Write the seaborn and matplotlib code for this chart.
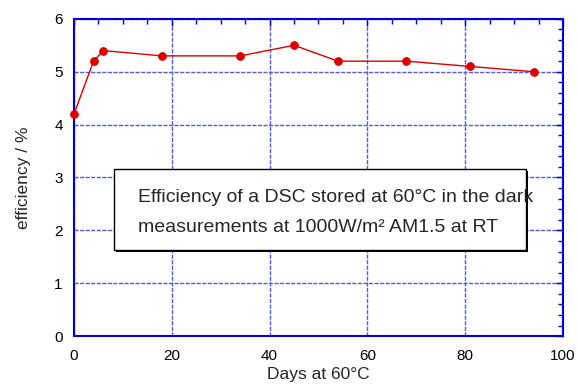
import matplotlib
matplotlib.use("Agg")
import matplotlib.pyplot as plt
import seaborn as sns
import pandas as pd
from matplotlib.ticker import MultipleLocator
from matplotlib.patches import Rectangle

days = [0, 4, 6, 18, 34, 45, 54, 68, 81, 94]
efficiency = [4.2, 5.2, 5.4, 5.3, 5.3, 5.5, 5.2, 5.2, 5.1, 5.0]
x_label = "Days at 60°C"
y_label = "efficiency / %"
note_lines = ["Efficiency of a DSC stored at 60°C in the dark",
              "measurements at 1000W/m² AM1.5 at RT"]

sns.set_style("white")
plt.rcParams['font.family'] = ['Liberation Sans', 'DejaVu Sans']

df = pd.DataFrame({"days": days, "eff": efficiency})

fig = plt.figure(figsize=(5.78, 3.85), dpi=100)
ax = fig.add_axes([0.128, 0.127, 0.846, 0.824])

blue = "#0000dd"
gridc = "#5a5ae0"

ax.set_xlim(0, 100)
ax.set_ylim(0, 6)
ax.xaxis.set_major_locator(MultipleLocator(20))
ax.xaxis.set_minor_locator(MultipleLocator(5))
ax.yaxis.set_major_locator(MultipleLocator(1))
ax.yaxis.set_minor_locator(MultipleLocator(0.2))
ax.grid(True, which="major", color=gridc, linestyle=(0, (3, 1)), linewidth=1.0)
ax.set_axisbelow(True)

sns.lineplot(data=df, x="days", y="eff", ax=ax, color="#dd0000", linewidth=1.0,
             marker="o", markersize=5.5, markeredgecolor="#dd0000", clip_on=False,
             zorder=5)

for s in ax.spines.values():
    s.set_color(blue)
    s.set_linewidth(1.5)

ax.tick_params(which="both", direction="in", top=True, right=True, colors=blue,
               labelcolor="black", labelsize=11)
ax.tick_params(which="major", length=5, width=1)
ax.tick_params(which="minor", length=3.5, width=1)
ax.tick_params(axis="x", which="major", pad=9)
ax.tick_params(axis="y", which="major", pad=8)
ax.set_xlabel(x_label, fontsize=12.5, labelpad=3)
ax.set_ylabel(y_label, fontsize=12.5, labelpad=17)

# text box with drop shadow
bx0, by0, bx1, by1 = 8.2, 1.63, 92.4, 3.16
shadow = Rectangle((bx0 + 0.45, by0 - 0.04), bx1 - bx0, by1 - by0, facecolor="black",
                   edgecolor="none", zorder=6)
box = Rectangle((bx0, by0), bx1 - bx0, by1 - by0, facecolor="white", edgecolor="black",
                linewidth=1.0, zorder=7)
ax.add_patch(shadow)
ax.add_patch(box)
ax.text(13.1, 2.54, note_lines[0], fontsize=14, va="baseline", ha="left", zorder=8)
ax.text(13.1, 1.97, note_lines[1], fontsize=14, va="baseline", ha="left", zorder=8)

fig.savefig("out.png", dpi=100)
